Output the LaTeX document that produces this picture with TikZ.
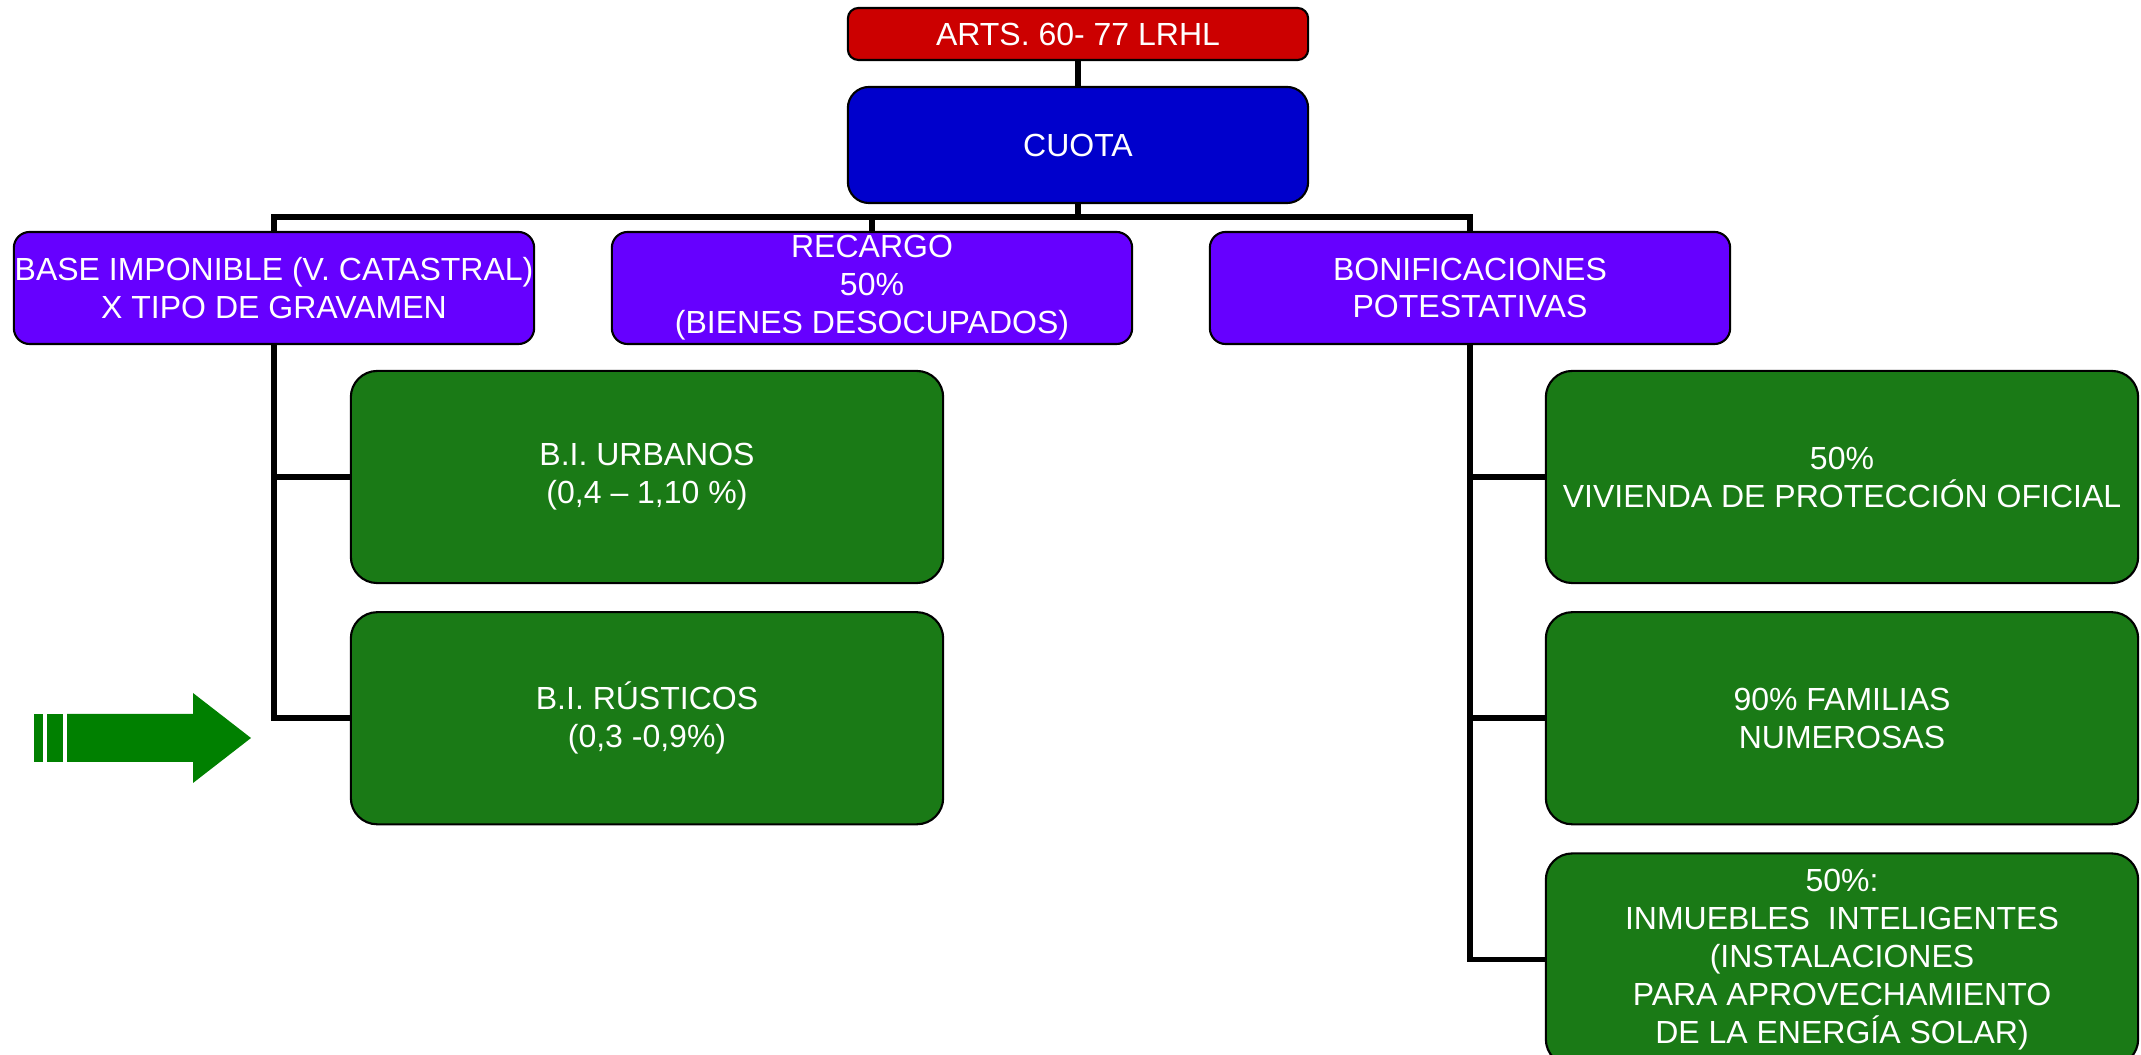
\documentclass[tikz,border=0pt]{standalone}
\usepackage{fontspec}
\setmainfont{Liberation Sans}
\usepackage{xcolor}
\definecolor{rojo}{HTML}{CC0000}
\definecolor{azul}{HTML}{0000CC}
\definecolor{lila}{HTML}{6600FF}
\definecolor{verde}{HTML}{1A7A16}
\definecolor{flecha}{HTML}{008000}
\usepackage{tikz}
\usetikzlibrary{positioning}

\begin{document}
\begin{tikzpicture}[
  x=0.01cm, y=-0.01cm,
  font=\fontsize{9.1}{10.8}\selectfont,
  B/.style={
    draw=black, line width=0.6pt, text=white, align=center, inner sep=0pt
  },
  T/.style={B, fill=rojo, rounded corners=3pt, minimum width=4.6cm, minimum height=0.52cm},
  C/.style={B, fill=azul, rounded corners=6pt, minimum width=4.6cm, minimum height=1.16cm},
  P/.style={B, fill=lila, rounded corners=4.5pt, minimum width=5.2cm, minimum height=1.12cm},
  G/.style={B, fill=verde, rounded corners=7.5pt, minimum width=5.92cm, minimum height=2.12cm},
  L/.style={black, line width=1.7pt}
]
  \useasboundingbox (0,0) rectangle (2141,1055);

  \node[T] (arts) at (1078,34) {ARTS. 60- 77 LRHL};
  \node[C] (cuota) at (1078,145) {CUOTA};

  \node[P] (base) at (274,288) {BASE IMPONIBLE (V. CATASTRAL)\\X TIPO DE GRAVAMEN};
  \node[P] (recargo) at (872,288) {RECARGO\\50\%\\(BIENES DESOCUPADOS)};
  \node[P] (bonif) at (1470,288) {BONIFICACIONES\\POTESTATIVAS};

  \node[G] (urb) at (647,477) {B.I. URBANOS\\(0,4 – 1,10 \%)};
  \node[G, below=0.27cm of urb] (rus) {B.I. RÚSTICOS\\(0,3 -0,9\%)};

  \node[G] (viv) at (1842,477) {50\%\\VIVIENDA DE PROTECCIÓN OFICIAL};
  \node[G, below=0.27cm of viv] (fam) {90\% FAMILIAS\\NUMEROSAS};
  \node[G, below=0.27cm of fam] (intel)
    {50\%:\\INMUEBLES\ \ INTELIGENTES\\(INSTALACIONES\\PARA APROVECHAMIENTO\\DE LA ENERGÍA SOLAR)};

  % conectores
  \coordinate (bar) at (1078,217);
  \draw[L] (arts) -- (cuota);
  \draw[L] (cuota) -- (bar);
  \draw[L] (base.north) |- (bar) -| (bonif.north);
  \draw[L] (recargo.north) -- (recargo.north |- bar);
  \draw[L] (base.south) |- (rus.west);
  \draw[L] (base.south |- urb.west) -- (urb.west);
  \draw[L] (bonif.south) |- (intel.west);
  \foreach \n in {viv,fam}
    \draw[L] (bonif.south |- \n.west) -- (\n.west);

  % flecha verde
  \fill[flecha] (34,714) rectangle (43,762);
  \fill[flecha] (47,714) rectangle (63,762);
  \fill[flecha] (67,714) -- (193,714) -- (193,693) -- (251,738)
    -- (193,783) -- (193,762) -- (67,762) -- cycle;
\end{tikzpicture}
\end{document}
